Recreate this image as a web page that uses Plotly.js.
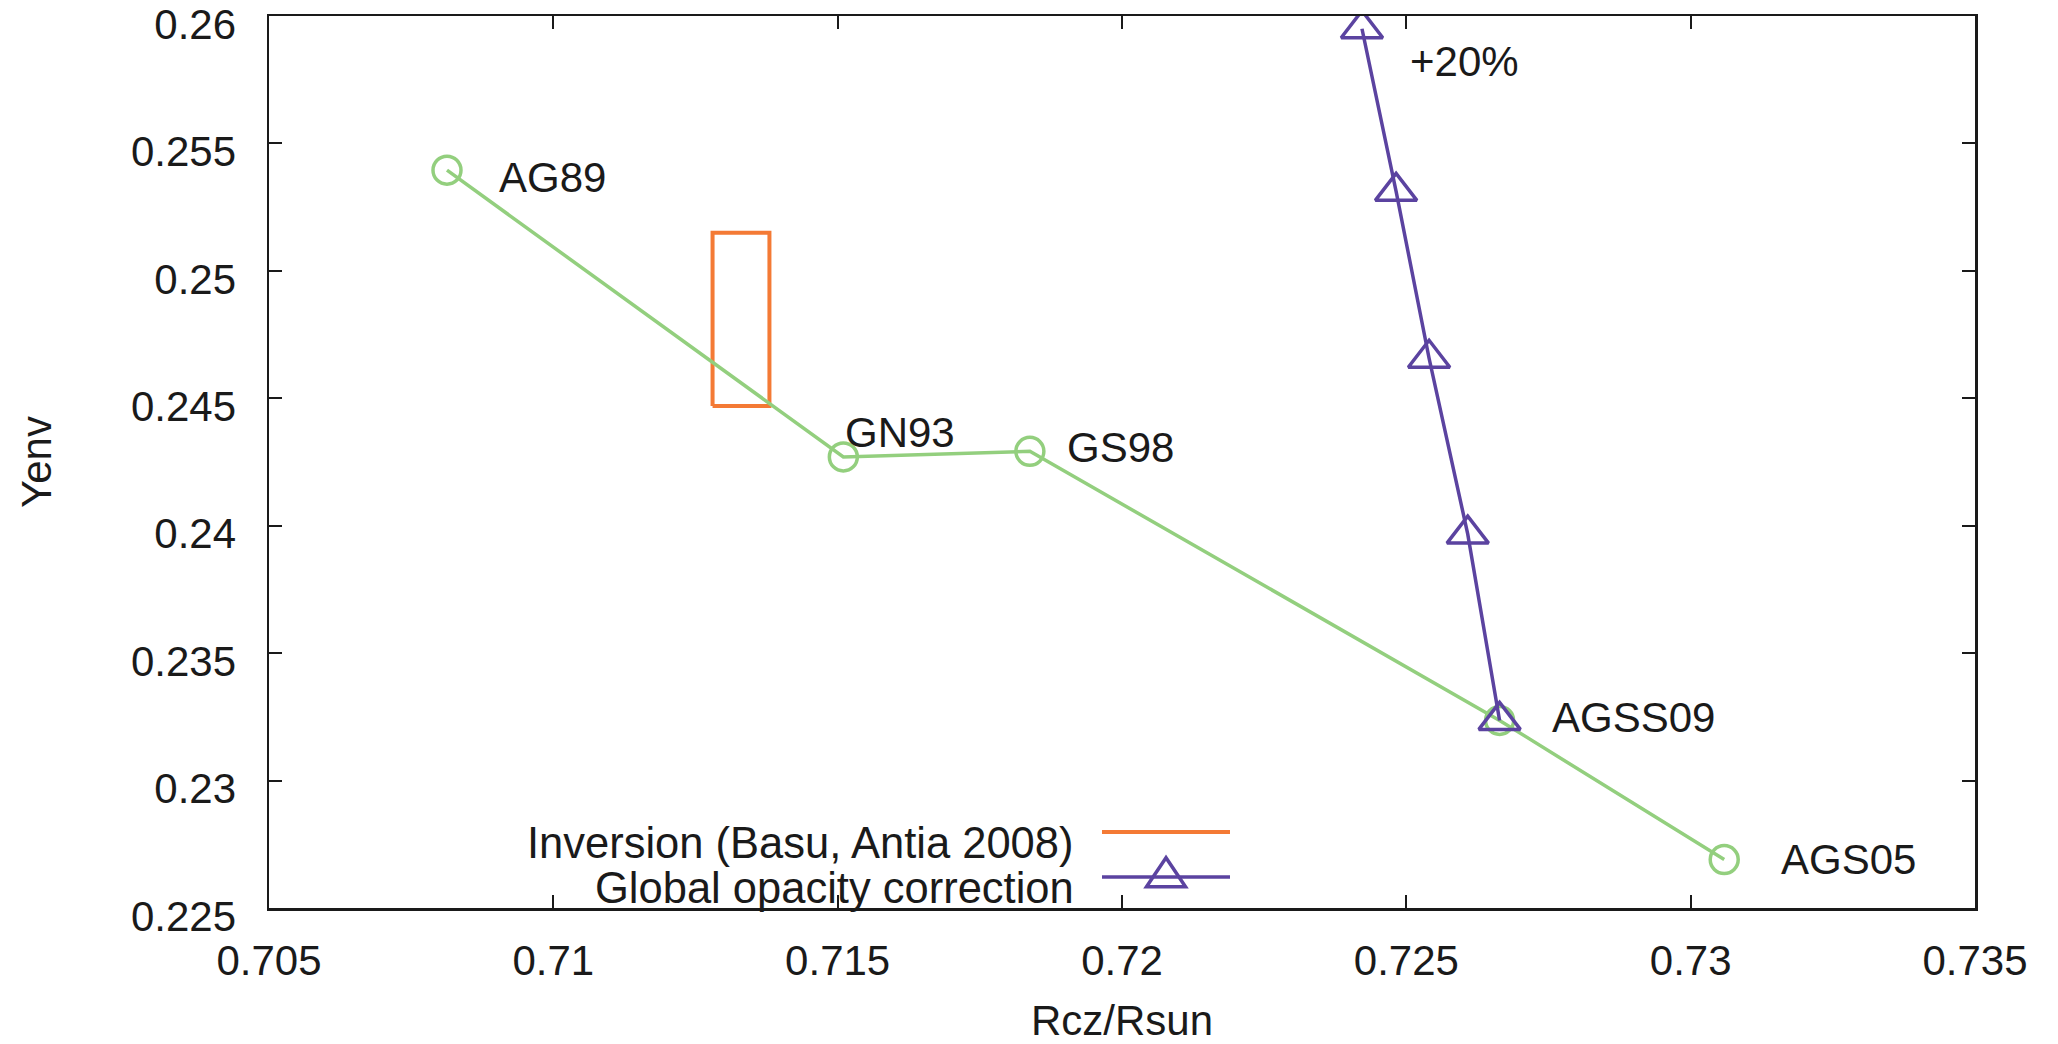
<!DOCTYPE html>
<html><head><meta charset="utf-8">
<script src="https://cdn.plot.ly/plotly-3.0.1.min.js"></script>
<style>html,body{margin:0;padding:0;background:#fff}#chart{width:2058px;height:1044px}</style>
</head><body><div id="chart"></div>
<script>
// ---- data ----
const modelNames = ["AG89", "GN93", "GS98", "AGSS09", "AGS05"];
const modelRcz   = [0.70813, 0.71510, 0.71838, 0.72664, 0.73059];
const modelYenv  = [0.25395, 0.24270, 0.24292, 0.23236, 0.22690];

const opacityRcz  = [0.72422, 0.72482, 0.72540, 0.72608, 0.72664];
const opacityYenv = [0.25950, 0.25312, 0.24657, 0.23967, 0.23236];
const opacityNote = "+20%";

const inversionRcz  = [0.71280, 0.71380];   // min, max
const inversionYenv = [0.24470, 0.25150];   // min, max

const xTickVals = [0.705, 0.71, 0.715, 0.72, 0.725, 0.73, 0.735];
const xTickText = ["0.705", "0.71", "0.715", "0.72", "0.725", "0.73", "0.735"];
const yTickVals = [0.225, 0.23, 0.235, 0.24, 0.245, 0.25, 0.255, 0.26];
const yTickText = ["0.225", "0.23", "0.235", "0.24", "0.245", "0.25", "0.255", "0.26"];

const legendLabels = ["Inversion (Basu, Antia 2008)", "Global opacity correction"];
const xTitle = "Rcz/Rsun";
const yTitle = "Yenv";

// ---- styles ----
const GREEN = "#93cf7e", ORANGE = "#f47a35", PURPLE = "#5b43a0", INK = "#1a1a1a";
const FONT = "Liberation Sans, Arial, Helvetica, sans-serif";
const FS = 42;

const rectX = [inversionRcz[0], inversionRcz[1], inversionRcz[1], inversionRcz[0], inversionRcz[0]];
const rectY = [inversionYenv[0], inversionYenv[0], inversionYenv[1], inversionYenv[1], inversionYenv[0]];

const traces = [
  {x: rectX, y: rectY, mode: "lines", line: {color: ORANGE, width: 4}, showlegend: false, hoverinfo: "skip"},
  {x: modelRcz, y: modelYenv, mode: "lines+markers", line: {color: GREEN, width: 3.5},
   marker: {symbol: "circle-open", size: 28, color: GREEN, line: {width: 3.5, color: GREEN}}, showlegend: false},
  {x: opacityRcz, y: opacityYenv, mode: "lines+markers", line: {color: PURPLE, width: 3.5},
   marker: {symbol: "triangle-up-open", size: 36, color: PURPLE, line: {width: 3.5, color: PURPLE}}, showlegend: false}
];

// label offsets in pixels (layout)
const labelShift = [[50, -7], [0, 24], [35, 4], [50, 3], [55, 0]];
const annotations = modelNames.map((n, i) => ({
  x: modelRcz[i], y: modelYenv[i], xref: "x", yref: "y", text: n, showarrow: false,
  xanchor: "left", yanchor: "middle", xshift: labelShift[i][0], yshift: labelShift[i][1],
  font: {family: FONT, size: FS, color: INK}
}));
annotations.push({
  x: opacityRcz[0], y: opacityYenv[0], xref: "x", yref: "y", text: opacityNote, showarrow: false,
  xanchor: "left", yanchor: "middle", xshift: 46, yshift: -33, font: {family: FONT, size: FS, color: INK}
});

// custom legend (text left of the sample, as in the reference)
const L = 269, R = 1975, T = 16, B = 908, PW = R - L, PH = B - T;
const px = v => (v - L) / PW, py = v => (B - v) / PH;
const legRows = [832, 877];
const legTextRight = 1076, legLineX0 = 1102, legLineX1 = 1230, legTriX = 1166;
legendLabels.forEach((t, i) => annotations.push({
  x: px(legTextRight), y: py(legRows[i] + 11), xref: "paper", yref: "paper", text: t, showarrow: false,
  xanchor: "right", yanchor: "middle", font: {family: FONT, size: 43.5, color: INK}
}));
const shapes = [
  {type: "line", xref: "paper", yref: "paper", x0: px(legLineX0), x1: px(legLineX1), y0: py(legRows[0]), y1: py(legRows[0]),
   line: {color: ORANGE, width: 4}},
  {type: "line", xref: "paper", yref: "paper", x0: px(legLineX0), x1: px(legLineX1), y0: py(legRows[1]), y1: py(legRows[1]),
   line: {color: PURPLE, width: 3.5}},
];
(function () {
  const cx = legTriX, cy = legRows[1], hw = 19.5, h = 29;
  const p = [[cx, cy - 2 * h / 3], [cx - hw, cy + h / 3], [cx + hw, cy + h / 3]];
  shapes.push({type: "path", xref: "paper", yref: "paper",
    path: `M${px(p[0][0])},${py(p[0][1])} L${px(p[1][0])},${py(p[1][1])} L${px(p[2][0])},${py(p[2][1])} Z`,
    line: {color: PURPLE, width: 3.5}, fillcolor: "rgba(0,0,0,0)"});
})();

const axisCommon = {
  showgrid: false, zeroline: false, showline: true, linecolor: INK, linewidth: 2.5,
  ticks: "inside", ticklen: 13, tickwidth: 2, tickcolor: INK, mirror: "ticks",
  tickfont: {family: FONT, size: FS, color: INK}, tickmode: "array", automargin: false,
  ticklabeloverflow: "allow"
};

const layout = {
  width: 2058, height: 1044,
  margin: {l: L, r: 2058 - R, t: T, b: 1044 - B},
  paper_bgcolor: "#fff", plot_bgcolor: "#fff",
  showlegend: false,
  xaxis: Object.assign({}, axisCommon, {range: [0.705, 0.735 + 1e-9], tickvals: xTickVals, ticktext: xTickText,
    ticklabelstandoff: 14, title: {text: xTitle, font: {family: FONT, size: FS, color: INK}, standoff: 24}}),
  yaxis: Object.assign({}, axisCommon, {range: [0.225, 0.26 + 1e-9], tickvals: yTickVals, ticktext: yTickText,
    ticklabelstandoff: 22, ticklabelshift: 8,
    title: {text: yTitle, font: {family: FONT, size: FS, color: INK}, standoff: 67}}),
  annotations: annotations,
  shapes: shapes
};

Plotly.newPlot("chart", traces, layout, {staticPlot: true, displayModeBar: false});
</script>
</body></html>
